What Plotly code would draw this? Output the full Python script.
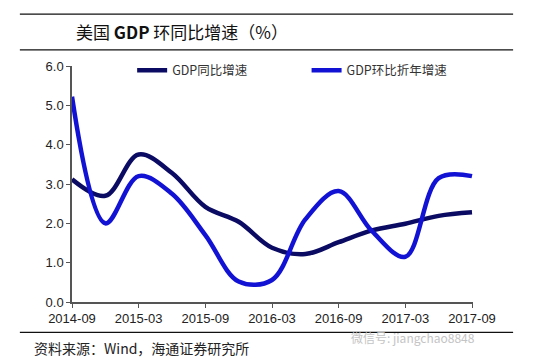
import plotly.graph_objects as go

quarters = ["2014-09", "2014-12", "2015-03", "2015-06", "2015-09", "2015-12", "2016-03",
            "2016-06", "2016-09", "2016-12", "2017-03", "2017-06", "2017-09"]
yoy = [3.12, 2.70, 3.75, 3.28, 2.42, 2.04, 1.38, 1.22, 1.52, 1.82, 1.99, 2.19, 2.28]
qoq_ann = [5.22, 2.00, 3.20, 2.75, 1.70, 0.52, 0.56, 2.10, 2.82, 1.80, 1.15, 3.15, 3.20]
tick_labels = ["2014-09", "2015-03", "2015-09", "2016-03", "2016-09", "2017-03", "2017-09"]

x_idx = list(range(len(quarters)))
tick_idx = [quarters.index(t) for t in tick_labels]

FONT = "Liberation Sans, Arial, Noto Sans CJK SC, sans-serif"
CJK = "Noto Sans CJK SC, sans-serif"

fig = go.Figure()
fig.add_trace(go.Scatter(x=x_idx, y=yoy, mode="lines", name="GDP同比增速", legend="legend",
                         line=dict(color="#0b0b63", width=4.5, shape="spline", smoothing=1.0)))
fig.add_trace(go.Scatter(x=x_idx, y=qoq_ann, mode="lines", name="GDP环比折年增速", legend="legend2",
                         line=dict(color="#1212d4", width=4.5, shape="spline", smoothing=1.0)))

leg_common = dict(orientation="h", y=0.98, xanchor="left", yanchor="middle",
                  font=dict(family=CJK, size=12.5, color="#333333"),
                  bgcolor="rgba(0,0,0,0)")

# page body has an 8px margin, so margins are offset by 8px
fig.update_layout(
    width=546, height=361,
    margin=dict(l=64, r=81, t=58, b=67, autoexpand=False),
    paper_bgcolor="white", plot_bgcolor="white",
    showlegend=True,
    legend=dict(x=0.15, **leg_common),
    legend2=dict(x=0.585, **leg_common),
    xaxis=dict(range=[0, 12.03], tickvals=tick_idx, ticktext=tick_labels,
               showgrid=False, zeroline=False, showline=True, linecolor="#555555", linewidth=1.5,
               ticks="outside", ticklen=4, tickcolor="#555555",
               tickfont=dict(family=FONT, size=13, color="#222222")),
    yaxis=dict(range=[0, 6], dtick=1, tickformat=".1f",
               showgrid=False, zeroline=False, showline=True, linecolor="#555555", linewidth=1.5,
               ticks="outside", ticklen=4, tickcolor="#555555",
               tickfont=dict(family=FONT, size=13, color="#222222")),
)

# header / footer rules
for yy in [1.22, 1.068, -0.129]:
    fig.add_shape(type="line", xref="paper", yref="paper", x0=-0.13, x1=1.1, y0=yy, y1=yy,
                  line=dict(color="#111111", width=1.2))

fig.add_annotation(xref="paper", yref="paper", x=0.005, y=1.145, xanchor="left", yanchor="middle",
                   text="美国 <b>GDP</b> 环同比增速（%）", showarrow=False,
                   font=dict(family=CJK, size=17, color="#111111"))
fig.add_annotation(xref="paper", yref="paper", x=-0.1, y=-0.195, xanchor="left", yanchor="middle",
                   text="资料来源：Wind，海通证券研究所", showarrow=False,
                   font=dict(family=CJK, size=14, color="#222222"))
fig.add_annotation(xref="paper", yref="paper", x=0.69, y=-0.152, xanchor="left", yanchor="middle",
                   text="微信号: jiangchao8848", showarrow=False,
                   font=dict(family=CJK, size=12, color="#c4c4c4"))

fig.write_html("out.html")
